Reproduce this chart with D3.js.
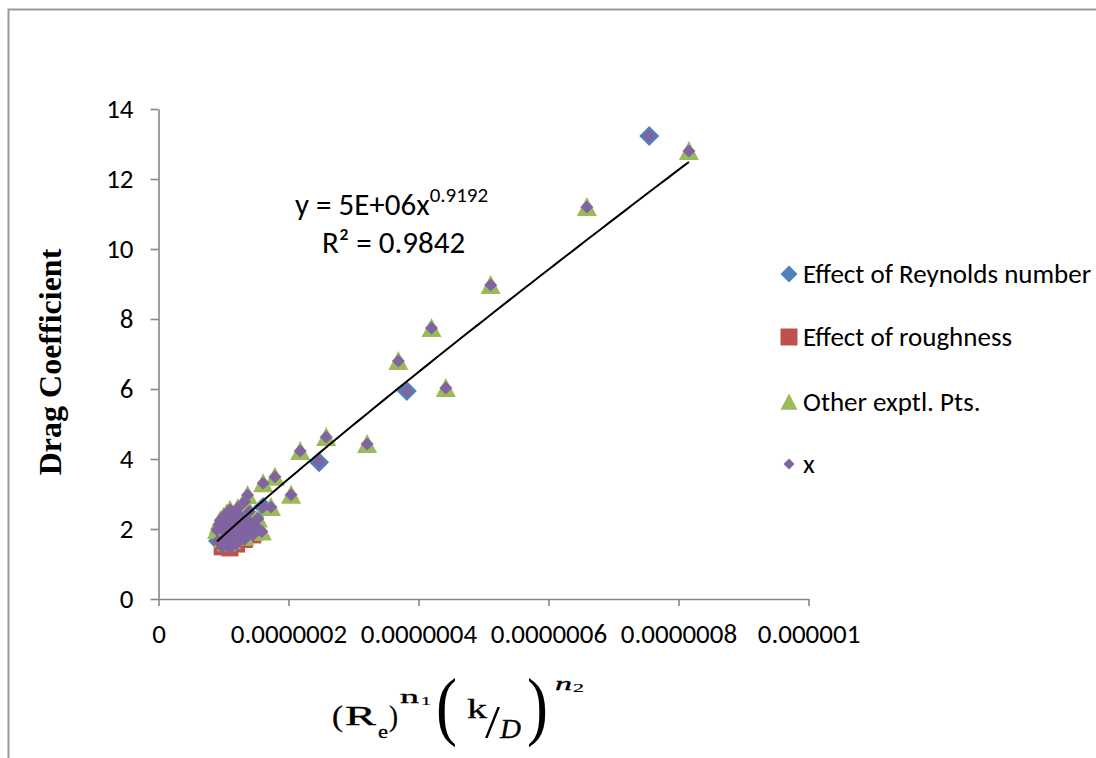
<!DOCTYPE html>
<html>
<head>
<meta charset="utf-8">
<script src="https://cdn.jsdelivr.net/npm/d3@7/dist/d3.min.js"></script>
<style>
  body { margin: 0; background: #fff; }
  svg { display: block; }
  text { font-family: Carlito, Lato, sans-serif; }
</style>
</head>
<body>
<svg id="chart" width="1096" height="758"></svg>
<script>
// Points are [x, drag coefficient]; x values are (Re)^n1 (k/D)^n2.
const reynolds = [
  [0.915e-7, 1.66], [1.61e-7, 2.63], [2.47e-7, 3.91], [3.82e-7, 5.94], [7.55e-7, 13.23]
];
const roughness = [
  [0.98e-7, 1.49], [1.1e-7, 1.46], [1.2e-7, 1.57], [1.32e-7, 1.70], [1.45e-7, 1.83]
];
const other = [
  [8.16e-7, 12.80], [6.59e-7, 11.20], [5.11e-7, 8.97], [4.20e-7, 7.74], [3.69e-7, 6.80],
  [4.42e-7, 6.03], [3.21e-7, 4.43], [2.58e-7, 4.63], [2.18e-7, 4.23], [1.79e-7, 3.49],
  [1.61e-7, 3.31], [2.04e-7, 2.98], [1.73e-7, 2.63], [1.37e-7, 2.97], [1.59e-7, 1.93],
  [0.90e-7, 1.97], [0.93e-7, 2.12], [0.95e-7, 2.25], [0.98e-7, 2.00], [1.00e-7, 2.35],
  [1.02e-7, 2.15], [1.05e-7, 2.45], [1.07e-7, 1.90], [1.10e-7, 2.55], [1.10e-7, 2.25],
  [1.13e-7, 2.05], [1.15e-7, 2.40], [1.17e-7, 1.80], [1.20e-7, 2.20], [1.22e-7, 2.60],
  [1.25e-7, 1.95], [1.27e-7, 2.35], [1.30e-7, 2.10], [1.32e-7, 1.78], [1.35e-7, 2.30],
  [1.38e-7, 2.00], [1.40e-7, 2.50], [1.43e-7, 2.15], [1.46e-7, 1.92], [1.50e-7, 2.05],
  [1.53e-7, 2.30], [1.56e-7, 1.97], [1.00e-7, 1.72], [1.05e-7, 1.62], [1.12e-7, 1.68],
  [1.32e-7, 2.78]
];
// The fitted set "x" holds every measured point.
const fitted = reynolds.concat(roughness, other);

// Power-law trend line y = a * x^b
const trendA = 4.93e6;
const trendB = 0.9192;

const xTicks = [0, 2e-7, 4e-7, 6e-7, 8e-7, 1e-6];
const xTickLabels = ["0", "0.0000002", "0.0000004", "0.0000006", "0.0000008", "0.000001"];
const yTicks = [0, 2, 4, 6, 8, 10, 12, 14];

const legendNames = ["Effect of Reynolds number", "Effect of roughness", "Other exptl. Pts.", "x"];
const colors = { blue: "#4F81BD", red: "#C0504D", green: "#9BBB59", purple: "#8064A2" };

const svg = d3.select("#chart");

// outer frame
svg.append("rect")
  .attr("x", 8.5).attr("y", 9.5).attr("width", 1200).attr("height", 900)
  .attr("fill", "none").attr("stroke", "#9a9a9a").attr("stroke-width", 2);

const x = d3.scaleLinear().domain([0, 1e-6]).range([158.5, 808.5]);
const y = d3.scaleLinear().domain([0, 14]).range([599, 109]);

// axes
const yAxis = d3.axisLeft(y).tickValues(yTicks).tickSize(8).tickSizeOuter(0).tickPadding(17);
const xAxis = d3.axisBottom(x).tickValues(xTicks).tickSize(7).tickSizeOuter(0).tickPadding(18)
  .tickFormat((d, i) => xTickLabels[i]);

const gy = svg.append("g").attr("transform", "translate(158.5,0)").call(yAxis);
const gx = svg.append("g").attr("transform", "translate(0,599)").call(xAxis);
[gx, gy].forEach(g => {
  g.selectAll("path, line").attr("stroke", "#868686").attr("stroke-width", 1.6);
  g.selectAll("text").attr("fill", "#000").style("font-size", "27px")
    .style("font-family", "Carlito, Lato, sans-serif");
});

// marker shapes
const diamond = r => `M0,${-r}L${r},0L0,${r}L${-r},0Z`;
const square = s => `M${-s},${-s}H${s}V${s}H${-s}Z`;
const triangle = s => `M0,${-s * 1.0}L${s},${s * 0.9}L${-s},${s * 0.9}Z`;

const plot = svg.append("g");
function drawSeries(data, path, fill) {
  plot.append("g").selectAll("path").data(data).join("path")
    .attr("transform", d => `translate(${x(d[0])},${y(d[1])})`)
    .attr("d", path).attr("fill", fill);
}
drawSeries(reynolds, diamond(10), colors.blue);
drawSeries(roughness, square(8.5), colors.red);
drawSeries(other, triangle(10), colors.green);
drawSeries(fitted, diamond(6.5), colors.purple);

// trend line over the fitted range
const xmin = d3.min(fitted, d => d[0]);
const xmax = d3.max(fitted, d => d[0]);
const trend = d3.range(0, 61).map(i => {
  const xv = xmin + (xmax - xmin) * i / 60;
  return [xv, trendA * Math.pow(xv, trendB)];
});
plot.append("path").datum(trend)
  .attr("d", d3.line().x(d => x(d[0])).y(d => y(d[1])))
  .attr("fill", "none").attr("stroke", "#000").attr("stroke-width", 2);

// trend equation
const eq = svg.append("text").attr("x", 295).attr("y", 215).style("font-size", "31px");
eq.append("tspan").text("y = 5E+06x");
eq.append("tspan").attr("dy", -13).style("font-size", "21px").text("0.9192");
svg.append("text").attr("x", 322).attr("y", 253).style("font-size", "31px").text("R² = 0.9842");

// legend
const legendY = [274, 337, 402, 464];
const legendMarks = [diamond(8.5), square(8.5), triangle(8.5), diamond(5.5)];
const legendColors = [colors.blue, colors.red, colors.green, colors.purple];
legendNames.forEach((name, i) => {
  svg.append("path").attr("transform", `translate(789,${legendY[i]})`)
    .attr("d", legendMarks[i]).attr("fill", legendColors[i]);
  svg.append("text").attr("x", 803).attr("y", legendY[i] + 9)
    .style("font-size", "27px").text(name);
});

// y axis title
svg.append("text")
  .attr("transform", "translate(61,362) rotate(-90)")
  .attr("text-anchor", "middle")
  .style("font-family", "'Liberation Serif', 'Times New Roman', serif")
  .style("font-weight", "bold").style("font-size", "32px")
  .text("Drag Coefficient");

// x axis title: (Re)^n1 (k/D)^n2, each glyph placed on its own
const serif = "'Liberation Serif', 'Times New Roman', serif";
const xt = svg.append("g").attr("fill", "#000");
function part(txt, px, py, size, width, italic, weight) {
  const t = xt.append("text").attr("x", px).attr("y", py)
    .style("font-family", serif).style("font-size", size + "px")
    .style("font-style", italic ? "italic" : "normal").text(txt);
  if (weight) t.attr("stroke", "#000").attr("stroke-width", weight);
  if (width) t.attr("textLength", width).attr("lengthAdjust", "spacingAndGlyphs");
}
part("(", 332, 726, 30, 11, false, 0.3);
part("R", 345, 725, 27, 31, false, 0.3);
part("e", 378, 738, 18, 10, false, 0.3);
part(")", 389, 726, 30, 9, false, 0.3);
part("n", 400, 703, 18, 19, false, 0.3);
part("1", 421, 705, 13, 10, false, 0.2);
part("(", 436, 731, 77, 21);
part("k", 467, 718, 27, 20, false, 0.3);
part("/", 485, 738, 46, 15);
part("D", 500, 738, 27, 21, true, 0.3);
part(")", 527, 731, 77, 21);
part("n", 555, 690, 19, 17, true, 0.3);
part("2", 573, 692, 13, 11, false, 0.2);
</script>
</body>
</html>
